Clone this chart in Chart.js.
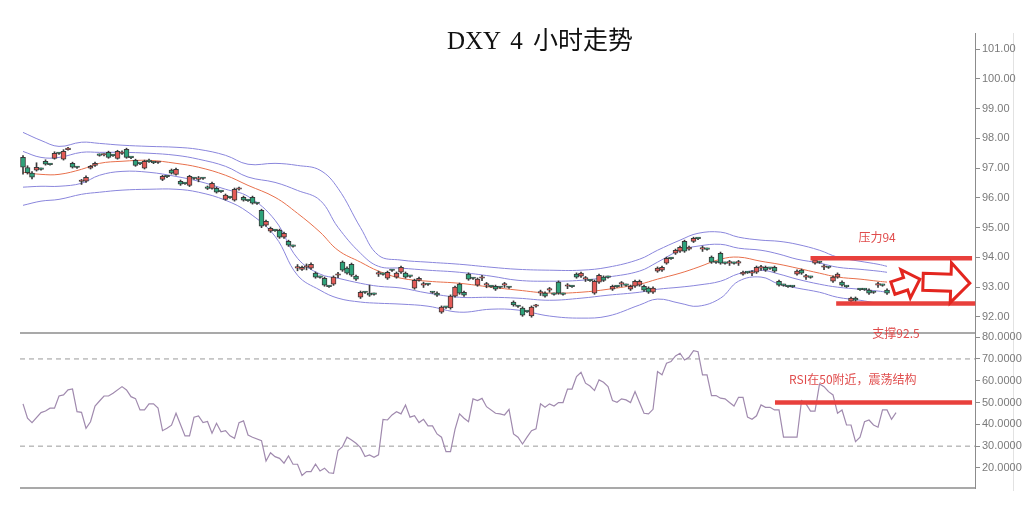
<!DOCTYPE html>
<html><head><meta charset="utf-8">
<script src="https://cdn.jsdelivr.net/npm/chart.js@4.4.0/dist/chart.umd.min.js"></script>
<style>
html,body{margin:0;padding:0;background:#fff;}
#wrap{position:relative;width:1030px;height:525px;overflow:hidden;background:#fff;}
#top{position:absolute;left:0;top:0;}
#bot{position:absolute;left:0;top:300px;}
#title{position:absolute;left:0;width:1080px;top:28px;text-align:center;font-size:25px;line-height:25px;word-spacing:4px;font-family:'Liberation Serif','Noto Sans CJK SC',serif;color:#111;}
#rborder{position:absolute;left:1013px;top:33px;width:0;height:458px;border-left:1px solid #e2e2e2;}
</style></head>
<body><div id="wrap">
<div id="rborder"></div>
<canvas id="top" width="1030" height="345"></canvas>
<canvas id="bot" width="1030" height="225"></canvas>
<div id="title">DXY 4 小时走势</div>
</div>
<script>
// ---- candle data (bar index 0..192) ----
const open = [97.36,97.02,96.83,96.93,96.97,97.23,97.13,97.33,97.50,97.30,
97.62,97.16,97.03,96.55,96.56,97.00,97.09,97.44,97.44,97.53,
97.43,97.33,97.49,97.63,97.36,97.26,97.16,97.00,97.23,97.19,
97.19,96.62,96.72,96.93,96.79,96.56,96.49,96.42,96.66,96.62,
96.66,96.36,96.32,96.32,96.22,95.95,96.02,95.92,96.29,96.02,
95.92,96.02,95.82,95.58,95.08,94.88,94.91,94.91,94.68,94.54,
94.38,93.64,93.60,93.67,93.64,93.47,93.34,93.30,93.03,93.10,
93.40,93.84,93.64,93.77,93.37,92.66,92.83,92.80,92.77,93.44,
93.44,93.30,93.57,93.34,93.50,93.47,93.37,92.97,93.23,93.07,
93.10,92.83,92.80,92.16,92.33,92.30,92.70,93.10,92.83,93.44,
93.30,93.07,93.30,93.07,93.03,93.03,93.00,93.07,93.00,92.50,
92.36,92.30,92.19,92.03,92.36,92.80,92.80,92.90,92.77,93.17,
92.77,93.03,93.03,93.44,93.37,93.27,93.23,92.80,93.17,93.34,
93.34,92.93,93.03,93.10,93.07,92.93,93.03,93.07,93.03,92.97,
92.83,93.54,93.57,93.81,93.97,94.14,94.21,94.54,94.28,94.54,
94.64,94.28,94.28,94.01,93.84,94.14,93.81,93.81,93.81,93.81,
93.44,93.50,93.47,93.50,93.64,93.67,93.64,93.67,93.20,93.07,
93.03,93.03,93.44,93.57,93.34,93.34,93.81,93.84,93.67,93.67,
93.20,93.34,93.17,93.03,92.53,92.63,92.93,92.93,92.90,92.83,
93.07,93.07,92.90];
const close = [97.03,96.85,96.70,97.03,96.96,97.13,97.12,97.50,97.49,97.56,
97.63,97.03,97.02,96.59,96.69,97.06,97.16,97.43,97.45,97.36,
97.42,97.56,97.51,97.36,97.35,97.09,97.15,97.23,97.22,97.18,
97.20,96.72,96.71,96.83,96.96,96.46,96.48,96.72,96.65,96.63,
96.65,96.32,96.49,96.19,96.21,96.09,96.01,96.29,96.30,95.92,
95.91,95.82,95.81,95.05,95.21,94.98,94.90,94.68,94.81,94.41,
94.37,93.65,93.67,93.68,93.77,93.34,93.33,93.07,93.02,93.34,
93.41,93.57,93.47,93.40,93.27,92.83,92.82,92.73,92.76,93.45,
93.43,93.50,93.56,93.47,93.67,93.34,93.36,93.23,93.30,93.08,
93.09,92.82,92.73,92.33,92.32,92.70,93.00,92.80,92.73,93.27,
93.29,93.27,93.31,93.08,93.02,92.93,92.99,93.08,92.99,92.40,
92.35,92.06,92.18,92.33,92.37,92.81,92.70,92.91,92.76,92.80,
92.76,93.04,93.02,93.34,93.47,93.28,93.22,93.20,93.40,93.23,
93.33,93.03,93.02,93.11,93.06,93.03,93.20,93.20,92.90,92.83,
92.97,93.64,93.67,93.97,93.96,94.24,94.34,94.21,94.34,94.64,
94.63,94.29,94.27,93.84,93.83,93.81,93.80,93.82,93.80,93.82,
93.50,93.49,93.48,93.67,93.65,93.57,93.63,93.54,93.07,93.06,
93.02,93.02,93.54,93.47,93.35,93.33,93.91,93.83,93.68,93.66,
93.34,93.44,93.07,93.02,92.63,92.56,92.92,92.92,92.80,92.82,
93.08,93.06,92.80];
const high = [97.42,97.08,96.88,97.18,97.00,97.28,97.16,97.55,97.53,97.62,
97.70,97.20,97.06,96.62,96.74,97.09,97.20,97.48,97.48,97.57,
97.46,97.60,97.58,97.67,97.39,97.30,97.19,97.27,97.30,97.22,
97.23,96.76,96.74,96.97,97.00,96.60,96.52,96.76,96.69,96.72,
96.69,96.40,96.53,96.36,96.25,96.13,96.05,96.33,96.36,96.06,
95.95,96.06,95.85,95.62,95.25,95.02,94.94,94.95,94.85,94.58,
94.41,93.76,93.71,93.78,93.82,93.51,93.37,93.34,93.06,93.38,
93.50,93.88,93.68,93.81,93.41,92.87,92.86,93.07,92.80,93.54,
93.47,93.54,93.60,93.51,93.71,93.51,93.40,93.27,93.34,93.17,
93.13,92.86,92.84,92.37,92.36,92.74,93.04,93.14,92.87,93.48,
93.33,93.31,93.40,93.16,93.06,93.07,93.03,93.16,93.03,92.54,
92.39,92.34,92.22,92.37,92.42,92.90,92.84,92.99,92.80,93.21,
92.80,93.12,93.06,93.48,93.51,93.36,93.26,93.24,93.44,93.38,
93.37,93.07,93.06,93.19,93.10,93.07,93.24,93.24,93.07,93.01,
93.01,93.68,93.71,94.01,94.00,94.28,94.38,94.58,94.38,94.68,
94.67,94.38,94.31,94.05,93.87,94.18,93.84,93.90,93.84,93.90,
93.54,93.53,93.56,93.71,93.73,93.71,93.67,93.71,93.24,93.10,
93.06,93.06,93.58,93.61,93.43,93.37,93.95,93.87,93.76,93.70,
93.38,93.48,93.21,93.06,92.67,92.67,92.96,92.96,92.94,92.86,
93.16,93.10,92.94];
const low = [96.80,96.80,96.64,96.90,96.93,97.10,97.10,97.30,97.46,97.27,
97.60,97.00,96.99,96.45,96.52,96.97,97.06,97.40,97.41,97.33,
97.39,97.30,97.46,97.33,97.32,97.06,97.12,96.97,97.19,97.15,
97.16,96.58,96.68,96.80,96.76,96.42,96.45,96.38,96.62,96.54,
96.62,96.28,96.29,96.16,96.18,95.92,95.98,95.89,96.26,95.89,
95.88,95.79,95.78,95.00,95.04,94.84,94.87,94.64,94.64,94.37,
94.34,93.55,93.56,93.58,93.60,93.30,93.30,93.03,92.99,93.06,
93.32,93.53,93.44,93.36,93.23,92.62,92.79,92.69,92.73,93.36,
93.40,93.26,93.53,93.30,93.46,93.30,93.33,92.93,93.20,92.99,
93.06,92.79,92.69,92.12,92.29,92.26,92.66,92.76,92.69,93.23,
93.26,93.03,93.22,92.98,92.99,92.89,92.96,92.99,92.96,92.36,
92.32,92.02,92.15,91.99,92.33,92.72,92.66,92.83,92.73,92.76,
92.73,92.95,92.99,93.30,93.33,93.19,93.19,92.76,93.13,93.19,
93.30,92.89,92.99,93.02,93.03,92.89,92.99,93.03,92.86,92.79,
92.79,93.50,93.53,93.77,93.93,94.10,94.17,94.17,94.24,94.50,
94.60,94.20,94.24,93.80,93.80,93.77,93.77,93.73,93.77,93.73,
93.40,93.46,93.39,93.46,93.56,93.53,93.60,93.50,93.03,93.03,
92.99,92.99,93.40,93.43,93.26,93.30,93.77,93.80,93.59,93.63,
93.16,93.30,93.03,92.99,92.49,92.52,92.89,92.89,92.76,92.79,
92.99,93.03,92.76];

// ---- band lines, read at sampled bar indices ----
const bandIdx = [0,4,8,13,17,22,28,34,39,45,50,56,61,66,70,75,79,84,90,97,104,110,117,124,130,137,141,146,150,155,159,164,168,172,177,181,186,190,192];
const bandOuterUp = [98.20,97.93,97.73,97.87,97.83,97.77,97.73,97.70,97.63,97.43,97.13,97.16,97.09,96.93,96.32,95.00,94.07,93.91,93.84,93.77,93.67,93.60,93.57,93.57,93.67,93.94,94.24,94.58,94.81,94.85,94.68,94.58,94.54,94.44,94.24,94.01,93.87,93.77,93.70];
const bandInnerUp = [97.56,97.36,97.36,97.53,97.53,97.53,97.50,97.43,97.30,97.06,96.70,96.52,96.25,95.92,95.01,94.14,93.70,93.64,93.57,93.50,93.37,93.23,93.20,93.23,93.34,93.54,93.84,94.24,94.38,94.44,94.31,94.24,94.11,93.94,93.81,93.67,93.60,93.54,93.50];
const bandMid = [96.86,96.79,96.79,96.96,97.16,97.23,97.26,97.16,97.03,96.76,96.42,96.02,95.48,94.85,94.24,93.84,93.54,93.30,93.20,93.13,93.00,92.90,92.80,92.83,92.93,93.10,93.27,93.47,93.67,93.94,94.01,93.87,93.77,93.64,93.47,93.34,93.27,93.20,93.17];
const bandInnerLow = [96.36,96.39,96.39,96.49,96.76,96.89,96.86,96.72,96.56,96.29,96.05,95.25,93.97,93.44,93.30,93.13,93.03,92.97,92.80,92.66,92.66,92.63,92.56,92.63,92.73,92.83,92.93,93.00,93.07,93.20,93.45,93.57,93.44,93.27,93.10,93.00,92.93,92.87,92.83];
const bandOuterLow = [95.75,95.89,95.95,96.12,96.19,96.26,96.29,96.29,96.19,95.92,95.52,94.71,93.40,92.90,92.63,92.50,92.46,92.43,92.36,92.16,92.26,92.23,92.03,91.96,92.03,92.40,92.60,92.46,92.36,92.63,93.20,93.34,93.10,92.97,92.83,92.66,92.56,92.46,92.43];

// ---- RSI, read at bar indices ----
const rsiIdx = [0,1,2,4,5,6,7,8,9,10,11,12,13,14,15,16,17,18,19,20,22,23,24,25,26,27,28,29,30,31,32,33,34,36,37,38,39,40,41,42,43,44,45,46,47,48,49,50,51,53,54,55,56,57,58,59,60,61,62,63,64,65,66,67,68,69,70,71,72,73,74,75,76,77,78,79,80,81,82,83,84,85,86,87,88,89,90,91,92,93,94,95,96,97,98,99,100,101,102,103,105,106,107,108,109,110,111,112,113,114,115,116,117,118,119,120,121,122,123,124,125,126,127,128,129,130,131,132,133,134,135,136,137,138,139,140,141,142,143,144,145,146,147,148,149,150,151,152,153,154,155,156,157,158,159,160,161,162,163,164,165,166,167,168,169,170,172,173,174,175,176,177,178,179,180,181,182,183,184,185,186,187,188,189,190,191,192,193,194];
const rsiVal = [49.4,42.8,40.8,45.4,46.1,47.4,47.4,53.0,53.5,55.8,56.2,45.8,45.5,38.2,41.2,48.4,50.7,53.0,53.0,54.3,57.3,55.8,52.7,51.8,46.6,46.6,49.4,49.4,47.5,37.1,38.2,39.6,45.1,34.7,34.7,43.3,43.9,40.8,41.3,35.9,40.5,36.6,37.1,34.7,33.6,40.8,41.6,35.1,34.1,32.5,23.2,27.0,25.2,24.4,22.2,25.5,21.7,21.7,16.5,18.3,18.3,21.7,18.6,19.9,17.8,17.5,28.0,29.8,34.1,32.8,31.3,29.3,25.2,26.0,24.9,26.0,42.3,42.0,44.3,45.8,44.8,48.9,43.3,44.0,40.8,42.3,39.3,39.3,35.6,34.1,27.5,27.5,37.7,44.8,42.8,41.2,51.7,50.9,51.9,48.1,45.1,44.8,44.3,46.9,35.6,34.1,31.0,34.1,37.1,37.9,49.4,47.8,49.4,48.4,50.0,50.0,56.2,56.2,61.9,63.9,58.9,57.6,55.5,60.4,59.3,57.3,50.9,50.1,51.7,51.2,50.0,55.0,50.0,45.1,44.8,46.9,64.2,62.7,68.0,68.8,71.4,72.6,69.5,70.8,73.8,73.3,62.7,62.7,53.2,53.2,52.0,51.7,50.0,48.4,52.4,52.4,43.3,42.3,43.9,48.9,47.8,47.8,46.6,46.6,34.1,34.1,34.1,50.9,49.4,46.1,46.1,58.5,57.3,55.0,53.5,45.1,46.6,39.7,39.7,32.1,34.1,41.2,42.0,39.7,38.7,46.6,46.6,42.3,45.4];

// ---- axis ticks ----
const priceTicks = [92,93,94,95,96,97,98,99,100,101];
const rsiTicks = [20,30,40,50,60,70,80];
const rsiGuides = [70,30];

// ---- annotations ----
const resistance = {value: 93.97, from: 175, to: 210.9, label: '压力94', labelX: 189.8, labelY: 94.68};
const support = {value: 92.45, from: 180.7, to: 211.6, label: '支撑92.5', labelX: 194, labelY: 91.46};
const rsiMark = {value: 50, from: 167.1, to: 210.9, label: 'RSI在50附近，震荡结构', labelX: 184.4, labelY: 60.4};
const arrows = [
  {tail:[193.3, 92.97], tip:[199.3, 93.27], shaft:6.5, head:15, headLen:15},
  {tail:[200.0, 93.18], tip:[210.4, 93.13], shaft:8.5, head:20, headLen:19}
];

const X_MIN = -0.67, X_MAX = 211.55;
const RED = '#e35b57', GREEN = '#2ea27a', EDGE = '#3a3a3a';
const BAND = '#8a86dc', MID = '#e8704c', ANNO = '#e8403c', ANNO_TXT = '#e04c4c';
const AXIS = '#8c8c8c', TICK_TXT = '#7a7a7a';
const TICK_FONT = {family: "'Liberation Sans Narrow','Liberation Sans',Arial,sans-serif", size: 11};

const bodyData = close.map((c,i)=>({x:i, y:[open[i], c]}));
const wickData = close.map((c,i)=>({x:i, y:[low[i], high[i]]}));
const bodyColors = close.map((c,i)=> c >= open[i] ? RED : GREEN);
const band = arr => arr.map((v,k)=>({x: bandIdx[k], y: v}));
const lineDs = (arr, color) => ({type:'line', data: band(arr), borderColor: color, borderWidth: 1, pointRadius: 0, tension: 0.4, order: 5});

function blockArrow(ctx, x0,y0,x1,y1, sw, hw, hl){
  const a = Math.atan2(y1-y0, x1-x0), L = Math.hypot(x1-x0, y1-y0);
  ctx.save(); ctx.translate(x0,y0); ctx.rotate(a);
  ctx.beginPath();
  ctx.moveTo(0,-sw); ctx.lineTo(L-hl,-sw); ctx.lineTo(L-hl,-hw); ctx.lineTo(L,0);
  ctx.lineTo(L-hl,hw); ctx.lineTo(L-hl,sw); ctx.lineTo(0,sw); ctx.closePath();
  ctx.fillStyle = '#fff'; ctx.fill();
  ctx.lineWidth = 3; ctx.strokeStyle = '#e3261f'; ctx.lineJoin = 'miter'; ctx.stroke();
  ctx.restore();
}
function hLine(ctx, xs, ys, a, color, w, dash){
  ctx.save(); ctx.beginPath(); ctx.strokeStyle = color; ctx.lineWidth = w;
  if (dash) ctx.setLineDash(dash);
  ctx.moveTo(xs.getPixelForValue(a.from), ys.getPixelForValue(a.value));
  ctx.lineTo(xs.getPixelForValue(a.to), ys.getPixelForValue(a.value));
  ctx.stroke(); ctx.restore();
}
function label(ctx, xs, ys, a){
  ctx.save(); ctx.fillStyle = ANNO_TXT; ctx.font = "12px 'Noto Sans CJK SC', sans-serif";
  ctx.textAlign = 'center'; ctx.textBaseline = 'middle';
  ctx.fillText(a.label, xs.getPixelForValue(a.labelX), ys.getPixelForValue(a.labelY));
  ctx.restore();
}

const topPlugin = {
  id: 'topAnno',
  afterDatasetsDraw(chart){
    const {ctx, chartArea: ca, scales:{x, y}} = chart;
    ctx.save(); ctx.strokeStyle = AXIS; ctx.lineWidth = 1.5;
    ctx.beginPath(); ctx.moveTo(ca.left, ca.bottom); ctx.lineTo(ca.right, ca.bottom); ctx.stroke(); ctx.restore();
    hLine(ctx, x, y, resistance, ANNO, 4.5);
    hLine(ctx, x, y, support, ANNO, 4.5);
    arrows.forEach(a => blockArrow(ctx, x.getPixelForValue(a.tail[0]), y.getPixelForValue(a.tail[1]),
      x.getPixelForValue(a.tip[0]), y.getPixelForValue(a.tip[1]), a.shaft, a.head, a.headLen));
    label(ctx, x, y, resistance);
    label(ctx, x, y, support);
  }
};
const botPlugin = {
  id: 'botAnno',
  beforeDatasetsDraw(chart){
    const {ctx, scales:{x, y}} = chart;
    rsiGuides.forEach(v => hLine(ctx, x, y, {value:v, from:X_MIN, to:X_MAX}, '#9a9a9a', 1, [5,4]));
  },
  afterDatasetsDraw(chart){
    const {ctx, chartArea: ca, scales:{x, y}} = chart;
    ctx.save(); ctx.strokeStyle = AXIS; ctx.lineWidth = 1.5;
    ctx.beginPath(); ctx.moveTo(ca.left, ca.bottom); ctx.lineTo(ca.right, ca.bottom); ctx.stroke(); ctx.restore();
    hLine(ctx, x, y, rsiMark, ANNO, 4.5);
    label(ctx, x, y, rsiMark);
  }
};

function yAxis(min, max, ticks, digits){
  return {
    position: 'right', min, max,
    afterBuildTicks: s => { s.ticks = ticks.map(v => ({value: v})); },
    afterFit: s => { s.width = 55; },
    grid: {drawOnChartArea: false, drawTicks: true, tickLength: 5, color: AXIS},
    border: {color: AXIS, width: 1},
    ticks: {color: TICK_TXT, font: TICK_FONT, padding: 2, callback: v => Number(v).toFixed(digits)}
  };
}
const xAxis = {type: 'linear', min: X_MIN, max: X_MAX, offset: false, display: false};

new Chart(document.getElementById('top'), {
  type: 'bar',
  data: {datasets: [
    lineDs(bandOuterUp, BAND), lineDs(bandInnerUp, BAND), lineDs(bandMid, MID),
    lineDs(bandInnerLow, BAND), lineDs(bandOuterLow, BAND),
    {type:'bar', data: wickData, backgroundColor: EDGE, borderWidth: 0, barThickness: 1, grouped: false, order: 2},
    {type:'bar', data: bodyData, backgroundColor: bodyColors, borderColor: EDGE, borderWidth: 1,
     borderSkipped: false, barThickness: 5, minBarLength: 1.5, grouped: false, order: 1}
  ]},
  options: {
    responsive: false, animation: false, events: [],
    layout: {padding: {left: 20, top: 33, right: 0, bottom: 12}},
    plugins: {legend: {display: false}, tooltip: {enabled: false}},
    scales: {x: xAxis, y: yAxis(91.46, 101.54, priceTicks, 2)}
  },
  plugins: [topPlugin]
});

new Chart(document.getElementById('bot'), {
  type: 'line',
  data: {datasets: [{
    data: rsiVal.map((v,k)=>({x: rsiIdx[k], y: v})),
    borderColor: '#a08aae', borderWidth: 1.2, pointRadius: 0, tension: 0
  }]},
  options: {
    responsive: false, animation: false, events: [],
    layout: {padding: {left: 20, top: 33, right: 0, bottom: 37}},
    plugins: {legend: {display: false}, tooltip: {enabled: false}},
    scales: {x: xAxis, y: yAxis(10.8, 81.9, rsiTicks, 4)}
  },
  plugins: [botPlugin]
});
</script>
</body></html>
